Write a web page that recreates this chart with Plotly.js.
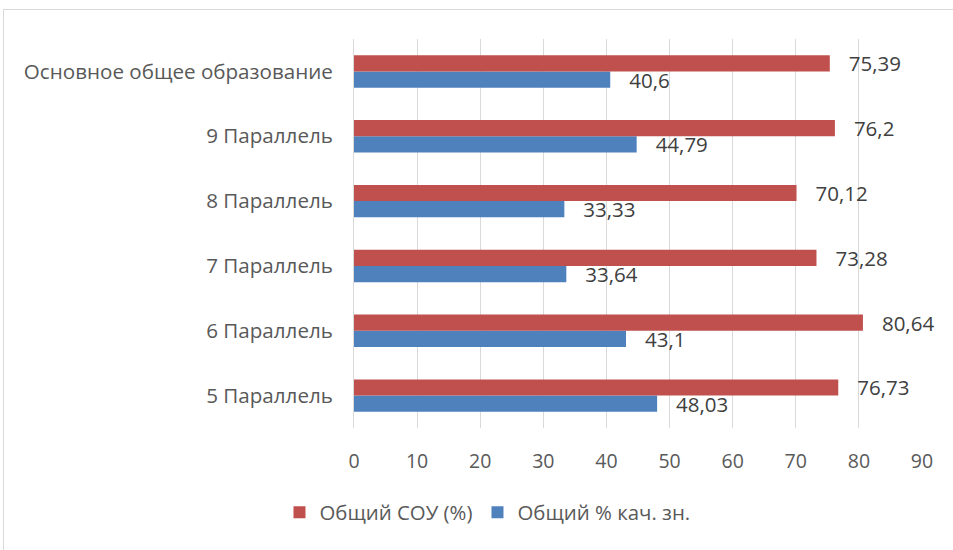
<!DOCTYPE html>
<html>
<head>
<meta charset="utf-8">
<script src="https://cdn.plot.ly/plotly-3.0.1.min.js"></script>
<style>
html,body{margin:0;padding:0;background:#fff;overflow:hidden;}
#chart{width:953px;height:550px;}
#frame{position:absolute;left:3px;top:9px;width:1000px;height:600px;border-left:1px solid #d9d9d9;border-top:1px solid #d9d9d9;pointer-events:none;}
</style>
</head>
<body>
<div id="chart"></div>
<div id="frame"></div>
<script>
const categories = ["5 Параллель", "6 Параллель", "7 Параллель", "8 Параллель", "9 Параллель", "Основное общее образование"];
const kachValues = [48.03, 43.1, 33.64, 33.33, 44.79, 40.6];
const souValues = [76.73, 80.64, 73.28, 70.12, 76.2, 75.39];
const seriesNames = ["Общий % кач. зн.", "Общий СОУ (%)"];
const xTicks = [0, 10, 20, 30, 40, 50, 60, 70, 80, 90];

const fmt = v => "\u00a0\u00a0\u00a0" + String(v).replace(".", ",");
const font = "Open Sans, sans-serif";

const traces = [
  {type: "bar", orientation: "h", name: seriesNames[0], y: categories, x: kachValues,
   text: kachValues.map(fmt), textposition: "outside", cliponaxis: false, constraintext: "none",
   textfont: {family: font, size: 20.5, color: "#404040"},
   marker: {color: "#4F81BD"}, hoverinfo: "none"},
  {type: "bar", orientation: "h", name: seriesNames[1], y: categories, x: souValues,
   text: souValues.map(fmt), textposition: "outside", cliponaxis: false, constraintext: "none",
   textfont: {family: font, size: 20.5, color: "#404040"},
   marker: {color: "#C0504D"}, hoverinfo: "none"}
];

const layout = {
  width: 953, height: 550,
  margin: {l: 354, r: 31, t: 39, b: 121.5},
  paper_bgcolor: "#fff", plot_bgcolor: "#fff",
  barmode: "group", bargap: 0.5, bargroupgap: 0,
  font: {family: font, size: 20, color: "#595959"},
  xaxis: {range: [0, 90], tickvals: xTicks, ticktext: xTicks.map(String),
          showgrid: true, gridcolor: "#d9d9d9", gridwidth: 1, zeroline: false,
          showline: false, ticks: "", ticklabelstandoff: 19,
          tickfont: {family: font, size: 19.5, color: "#595959"}, fixedrange: true},
  yaxis: {type: "category", categoryorder: "array", categoryarray: categories,
          showline: true, linecolor: "#d9d9d9", linewidth: 1, showgrid: false,
          ticks: "", ticklabelstandoff: 16,
          tickfont: {family: font, size: 20.6, color: "#595959"}, fixedrange: true},
  legend: {orientation: "h", x: 0.235, xanchor: "center", y: -0.217, yanchor: "middle",
           traceorder: "reversed", font: {family: font, size: 20.4, color: "#595959"},
           itemclick: false, itemdoubleclick: false},
  showlegend: true
};

Plotly.newPlot("chart", traces, layout, {displayModeBar: false, staticPlot: true});
</script>
</body>
</html>
